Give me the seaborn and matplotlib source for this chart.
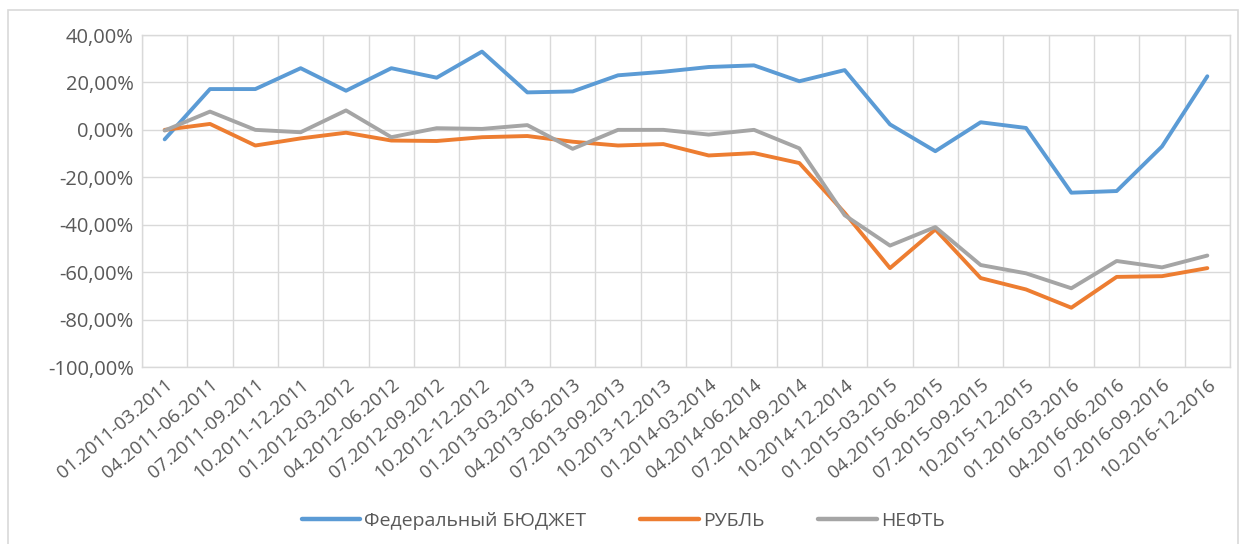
import numpy as np
import pandas as pd
import matplotlib
matplotlib.use("Agg")
import matplotlib.pyplot as plt
import seaborn as sns
from matplotlib.patches import Rectangle
from matplotlib.ticker import FuncFormatter, MultipleLocator

quarters = [
    "01.2011-03.2011", "04.2011-06.2011", "07.2011-09.2011", "10.2011-12.2011",
    "01.2012-03.2012", "04.2012-06.2012", "07.2012-09.2012", "10.2012-12.2012",
    "01.2013-03.2013", "04.2013-06.2013", "07.2013-09.2013", "10.2013-12.2013",
    "01.2014-03.2014", "04.2014-06.2014", "07.2014-09.2014", "10.2014-12.2014",
    "01.2015-03.2015", "04.2015-06.2015", "07.2015-09.2015", "10.2015-12.2015",
    "01.2016-03.2016", "04.2016-06.2016", "07.2016-09.2016", "10.2016-12.2016",
]
budget = [-4.0, 17.2, 17.2, 26.0, 16.5, 26.0, 22.0, 33.0, 15.8, 16.2, 23.0, 24.5,
          26.5, 27.2, 20.5, 25.2, 2.3, -9.0, 3.2, 0.8, -26.5, -25.8, -7.0, 22.6]
ruble = [0.0, 2.5, -6.6, -3.6, -1.2, -4.5, -4.7, -3.1, -2.6, -5.0, -6.6, -6.0,
         -10.8, -9.8, -14.0, -35.0, -58.3, -42.0, -62.5, -67.3, -75.0, -62.0, -61.7, -58.3]
oil = [-0.3, 7.7, 0.0, -1.0, 8.2, -3.1, 0.7, 0.4, 2.0, -8.0, 0.0, 0.0,
       -2.0, 0.0, -7.8, -36.0, -48.8, -41.0, -57.0, -60.5, -66.8, -55.3, -58.0, -53.0]
series_names = ["Федеральный БЮДЖЕТ", "РУБЛЬ", "НЕФТЬ"]
palette = ["#5B9BD5", "#ED7D31", "#A5A5A5"]

df = pd.DataFrame({
    "idx": list(range(len(quarters))) * 3,
    "value": budget + ruble + oil,
    "series": [n for n in series_names for _ in quarters],
})

sns.set_style("white")
plt.rcParams["font.family"] = ["Open Sans", "DejaVu Sans"]

fig = plt.figure(figsize=(12.46, 5.44), dpi=100)
ax = fig.add_axes([142 / 1246, 1 - 367 / 544, (1230 - 142) / 1246, (367 - 35) / 544])

sns.lineplot(data=df, x="idx", y="value", hue="series", hue_order=series_names,
             palette=palette, linewidth=2.8, ax=ax, legend=False, sort=False)

ax.set_xlim(-0.5, len(quarters) - 0.5)
ax.set_ylim(-100, 40)
ax.yaxis.set_major_locator(MultipleLocator(20))
ax.yaxis.set_major_formatter(FuncFormatter(lambda v, p: f"{v:.2f}%".replace(".", ",")))
ax.set_xticks(range(len(quarters)))
ax.set_xticks(np.arange(-0.5, len(quarters), 1), minor=True)
ax.set_xticklabels(quarters, rotation=40, ha="right", rotation_mode="anchor",
                   fontsize=13.5, color="#595959")
for lab in ax.get_yticklabels():
    lab.set_fontsize(14.5)
    lab.set_color("#595959")
ax.tick_params(axis="both", which="both", length=0, pad=6)
ax.grid(True, axis="y", which="major", color="#D9D9D9", linewidth=1)
ax.grid(True, axis="x", which="minor", color="#D9D9D9", linewidth=1)
ax.set_axisbelow(True)
for s in ax.spines.values():
    s.set_color("#D9D9D9")
    s.set_linewidth(1)
ax.set_xlabel("")
ax.set_ylabel("")

handles = [plt.Line2D([], [], color=c, linewidth=3.2) for c in palette]
fig.legend(handles, series_names, loc="center", bbox_to_anchor=(0.5, 1 - 521 / 544),
           ncol=3, frameon=False, fontsize=14, handlelength=3.0, handletextpad=0.2,
           columnspacing=2.8, labelcolor="#595959")

fig.patches.append(Rectangle((8 / 1246, -0.02), 1230 / 1246, 1 - 10 / 544 + 0.02,
                             transform=fig.transFigure, fill=False,
                             edgecolor="#D9D9D9", linewidth=1.2))

fig.savefig("out.png", dpi=100)
